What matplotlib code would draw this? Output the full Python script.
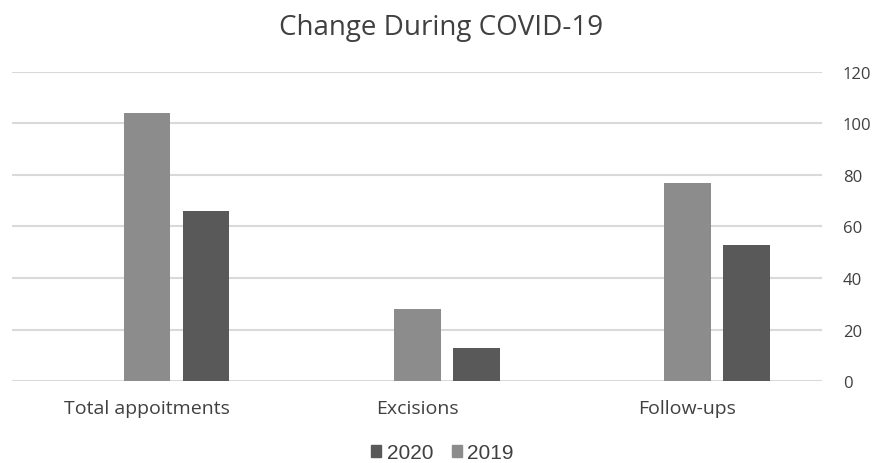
import numpy as np
import matplotlib.pyplot as plt
from matplotlib.patches import Patch

categories = ['Total appoitments', 'Excisions', 'Follow-ups']
vals_2019 = [104, 28, 77]
vals_2020 = [66, 13, 53]
yticks = [0, 20, 40, 60, 80, 100, 120]

plt.rcParams['font.family'] = ['Open Sans', 'DejaVu Sans']

fig = plt.figure(figsize=(8.76, 4.64), dpi=100)
ax = fig.add_axes([0.0137, 0.1767, 0.9247, 0.666])

x = np.arange(len(categories))
w = 0.174
step = 0.2185
c19 = '#8c8c8c'
c20 = '#595959'
ax.bar(x, vals_2019, width=w, color=c19, zorder=3)
ax.bar(x + step, vals_2020, width=w, color=c20, zorder=3)

ax.set_xlim(-0.5, 2.5)
ax.set_ylim(0, 120)
ax.set_yticks(yticks)
ax.yaxis.tick_right()
ax.grid(axis='y', color='#d9d9d9', linewidth=1.5, zorder=0)
for s in ax.spines.values():
    s.set_visible(False)
ax.tick_params(axis='y', length=0, pad=15, labelsize=12, labelcolor='#404040')
ax.set_xticks(x)
ax.set_xticklabels(categories)
ax.tick_params(axis='x', length=0, pad=13, labelsize=14, labelcolor='#404040')

fig.suptitle('Change During COVID-19', x=0.503, y=0.97, fontsize=20, color='#404040')

handles = [Patch(color=c20, label='2020'), Patch(color=c19, label='2019')]
fig.legend(handles=handles, loc='center', bbox_to_anchor=(0.505, 0.022), ncol=2,
           frameon=False, handlelength=0.5, handleheight=0.5,
           handletextpad=0.25, columnspacing=0.9, labelcolor='#404040',
           prop={'family': 'Liberation Sans', 'size': 15})

fig.savefig('out.png', dpi=100)
